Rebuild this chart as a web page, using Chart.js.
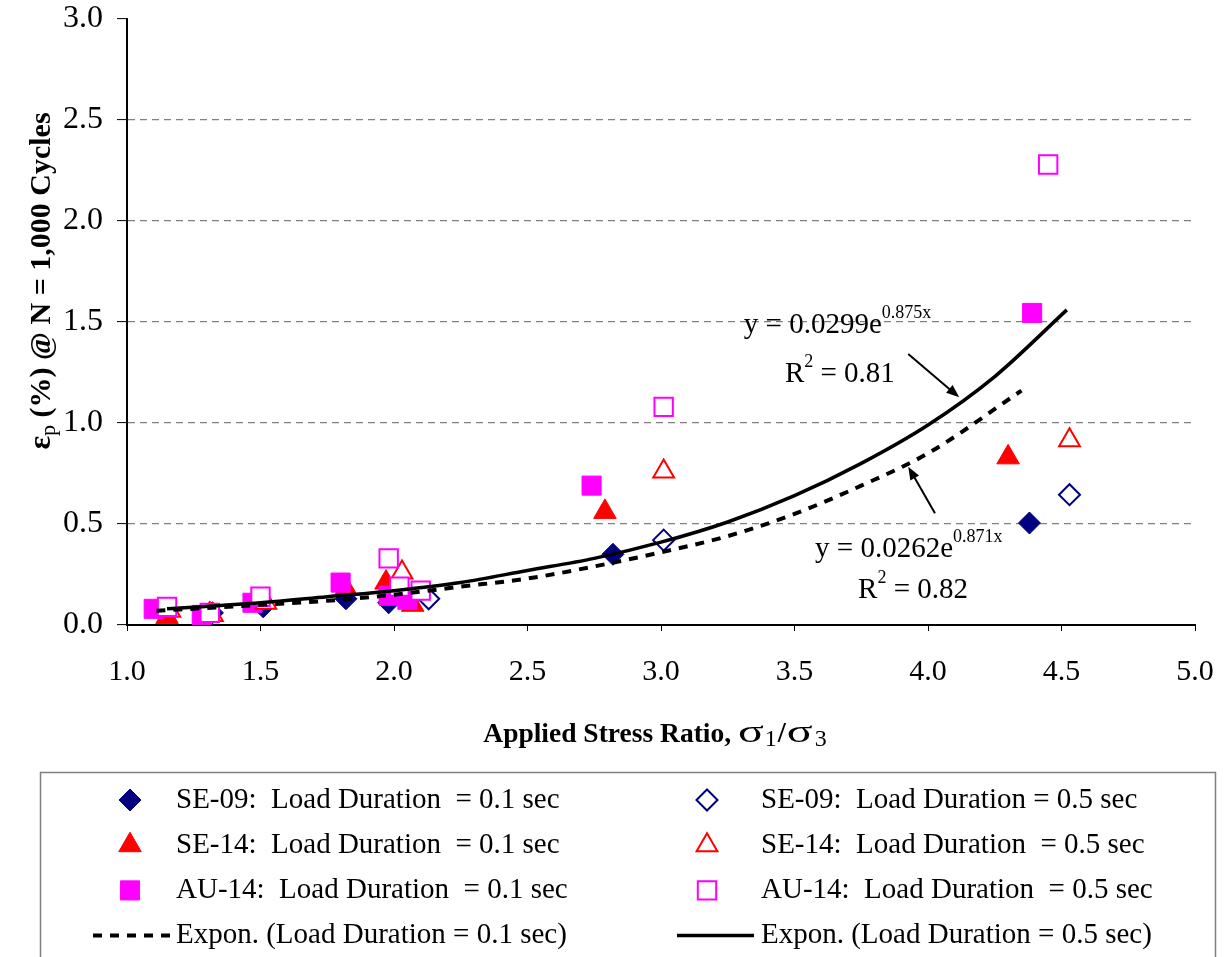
<!DOCTYPE html>
<html>
<head>
<meta charset="utf-8">
<title>Permanent strain vs applied stress ratio</title>
<script src="https://cdn.jsdelivr.net/npm/chart.js@4.4.0/dist/chart.umd.min.js"></script>
<style>
  body { margin: 0; background: #fff; }
</style>
</head>
<body>
<canvas id="myChart" width="1230" height="957"></canvas>
<script>
// tick values
const xTicks = [1.0, 1.5, 2.0, 2.5, 3.0, 3.5, 4.0, 4.5, 5.0];
const yTicks = [0.0, 0.5, 1.0, 1.5, 2.0, 2.5, 3.0];

// load duration = 0.1 sec
const se09FastX = [1.32, 1.51, 1.82, 1.98, 2.82, 4.38];
const se09FastY = [0.06, 0.09, 0.13, 0.11, 0.35, 0.505];
const se14FastX = [1.15, 1.31, 1.50, 1.82, 1.97, 2.07, 2.79, 4.30];
const se14FastY = [0.04, 0.055, 0.12, 0.18, 0.21, 0.10, 0.56, 0.83];
const au14FastX = [1.10, 1.28, 1.47, 1.80, 1.98, 2.05, 2.74, 4.39];
const au14FastY = [0.08, 0.05, 0.11, 0.21, 0.145, 0.125, 0.69, 1.545];

// load duration = 0.5 sec
const se09SlowX = [2.13, 3.01, 4.53];
const se09SlowY = [0.13, 0.42, 0.645];
const se14SlowX = [1.16, 1.32, 1.52, 2.03, 3.01, 4.53];
const se14SlowY = [0.07, 0.05, 0.11, 0.26, 0.76, 0.915];
const au14SlowX = [1.15, 1.31, 1.50, 1.98, 2.02, 2.10, 3.01, 4.45];
const au14SlowY = [0.09, 0.06, 0.14, 0.33, 0.19, 0.17, 1.08, 2.28];

// trend lines
const trendFastX = [1.11, 1.5, 1.75, 2.0, 2.25, 2.5, 2.75, 3.0, 3.25, 3.5, 3.75, 4.0, 4.35];
const trendFastY = [0.07, 0.10, 0.12, 0.15, 0.19, 0.23, 0.29, 0.36, 0.44, 0.55, 0.69, 0.85, 1.16];
const trendSlowX = [1.15, 1.5, 1.75, 2.0, 2.25, 2.5, 2.75, 3.0, 3.25, 3.5, 3.75, 4.0, 4.25, 4.52];
const trendSlowY = [0.08, 0.11, 0.14, 0.17, 0.21, 0.27, 0.33, 0.41, 0.51, 0.64, 0.80, 0.99, 1.23, 1.56];

const SERIF = '"Liberation Serif", "Times New Roman", serif';
Chart.defaults.font.family = SERIF;
Chart.defaults.color = '#000';

function pts(xs, ys) {
    return xs.map((x, i) => ({ x: x, y: ys[i] }));
}

function markerSet(label, xs, ys, style, color, radius, open, order) {
    return {
        label: label,
        data: pts(xs, ys),
        pointStyle: style,
        pointRadius: radius,
        pointHoverRadius: radius,
        pointBackgroundColor: open ? '#fff' : color,
        pointBorderColor: color,
        pointBorderWidth: open ? 2 : 1,
        order: order
    };
}

const dsSe09Fast = markerSet('SE-09:  Load Duration  = 0.1 sec', se09FastX, se09FastY, 'rectRot', '#000080', 11, false, 6);
const dsSe14Fast = markerSet('SE-14:  Load Duration  = 0.1 sec', se14FastX, se14FastY, 'triangle', '#FF0000', 13, false, 5);
const dsAu14Fast = markerSet('AU-14:  Load Duration  = 0.1 sec', au14FastX, au14FastY, 'rect', '#FF00FF', 13.5, false, 4);
const dsSe09Slow = markerSet('SE-09:  Load Duration = 0.5 sec', se09SlowX, se09SlowY, 'rectRot', '#000080', 10.5, true, 3);
const dsSe14Slow = markerSet('SE-14:  Load Duration  = 0.5 sec', se14SlowX, se14SlowY, 'triangle', '#FF0000', 12, true, 2);
const dsAu14Slow = markerSet('AU-14:  Load Duration  = 0.5 sec', au14SlowX, au14SlowY, 'rect', '#FF00FF', 13, true, 1);

const dsTrendFast = {
    label: 'Expon. (Load Duration = 0.1 sec)',
    data: pts(trendFastX, trendFastY),
    showLine: true,
    borderColor: '#000',
    borderWidth: 4,
    borderDash: [9, 8],
    pointRadius: 0,
    cubicInterpolationMode: 'monotone',
    order: 0
};
const dsTrendSlow = {
    label: 'Expon. (Load Duration = 0.5 sec)',
    data: pts(trendSlowX, trendSlowY),
    showLine: true,
    borderColor: '#000',
    borderWidth: 3.5,
    pointRadius: 0,
    cubicInterpolationMode: 'monotone',
    order: 0
};

// legend: left column 0.1 sec, right column 0.5 sec
const legendRows = [
    [dsSe09Fast, dsSe09Slow],
    [dsSe14Fast, dsSe14Slow],
    [dsAu14Fast, dsAu14Slow],
    [dsTrendFast, dsTrendSlow]
];

const fitNotes = [
    { at: [3.31, 1.445], runs: [{ t: 'y = 0.0299e' }, { t: '0.875x', size: 18, dy: -15 }] },
    { at: [3.464, 1.203], runs: [{ t: 'R' }, { t: '2', size: 18, dy: -15 }, { t: ' = 0.81' }] },
    { at: [3.577, 0.337], runs: [{ t: 'y = 0.0262e' }, { t: '0.871x', size: 18, dy: -15 }] },
    { at: [3.738, 0.134], runs: [{ t: 'R' }, { t: '2', size: 18, dy: -15 }, { t: ' = 0.82' }] }
];
const fitArrows = [
    { from: [3.926, 1.342], to: [4.117, 1.127] },
    { from: [4.026, 0.553], to: [3.926, 0.784] }
];

function fontOf(r) {
    return (r.bold ? 'bold ' : '') + (r.size || 29) + 'px ' + SERIF;
}
function runAdvance(ctx, r) {
    ctx.font = fontOf(r);
    return ctx.measureText(r.t).width * (r.sx || 1) + (r.adv || 0);
}
function runsWidth(ctx, runs) {
    return runs.reduce((w, r) => w + runAdvance(ctx, r), 0);
}
function drawRuns(ctx, runs, x, y) {
    runs.forEach(r => {
        ctx.font = fontOf(r);
        ctx.save();
        ctx.translate(x, y + (r.dy || 0));
        ctx.scale(r.sx || 1, 1);
        ctx.fillText(r.t, 0, 0);
        ctx.restore();
        x += runAdvance(ctx, r);
    });
}

function drawMarker(ctx, ds, x, y) {
    ctx.save();
    ctx.fillStyle = ds.pointBackgroundColor;
    ctx.strokeStyle = ds.pointBorderColor;
    ctx.lineWidth = ds.pointBorderWidth;
    Chart.helpers.drawPoint(ctx, {
        pointStyle: ds.pointStyle,
        radius: ds.pointRadius,
        borderWidth: ds.pointBorderWidth,
        rotation: 0
    }, x, y);
    ctx.restore();
}

const extras = {
    id: 'extras',
    afterDraw(chart) {
        const ctx = chart.ctx;
        const xs = chart.scales.x, ys = chart.scales.y;
        ctx.save();
        ctx.fillStyle = '#000';
        ctx.textBaseline = 'alphabetic';
        ctx.textAlign = 'left';

        // x axis title
        const xTitle = [
            { t: 'Applied Stress Ratio, ', bold: true, size: 27.5 },
            { t: 'σ', size: 32, sx: 1.5, adv: 1 },
            { t: '1', size: 24, dy: 4, adv: 1 },
            { t: '/', bold: true, size: 29, adv: 1 },
            { t: 'σ', size: 32, sx: 1.5, adv: 2 },
            { t: '3', size: 24, dy: 4 }
        ];
        drawRuns(ctx, xTitle, 655 - runsWidth(ctx, xTitle) / 2, 742);

        // y axis title
        const yTitle = [
            { t: 'ε', bold: true, size: 32 },
            { t: 'p', size: 22, dy: 5 },
            { t: ' (%) @ N = 1,000 Cycles', bold: true, size: 30 }
        ];
        ctx.save();
        ctx.translate(50, 281);
        ctx.rotate(-Math.PI / 2);
        drawRuns(ctx, yTitle, -runsWidth(ctx, yTitle) / 2, 0);
        ctx.restore();

        // fit equations
        fitNotes.forEach(n => {
            drawRuns(ctx, n.runs, xs.getPixelForValue(n.at[0]), ys.getPixelForValue(n.at[1]));
        });
        ctx.strokeStyle = '#000';
        ctx.lineWidth = 2;
        fitArrows.forEach(a => {
            const x1 = xs.getPixelForValue(a.from[0]), y1 = ys.getPixelForValue(a.from[1]);
            const x2 = xs.getPixelForValue(a.to[0]), y2 = ys.getPixelForValue(a.to[1]);
            const ang = Math.atan2(y2 - y1, x2 - x1);
            ctx.beginPath();
            ctx.moveTo(x1, y1);
            ctx.lineTo(x2 - 8 * Math.cos(ang), y2 - 8 * Math.sin(ang));
            ctx.stroke();
            ctx.beginPath();
            ctx.moveTo(x2, y2);
            ctx.lineTo(x2 - 13 * Math.cos(ang) + 5 * Math.sin(ang), y2 - 13 * Math.sin(ang) - 5 * Math.cos(ang));
            ctx.lineTo(x2 - 13 * Math.cos(ang) - 5 * Math.sin(ang), y2 - 13 * Math.sin(ang) + 5 * Math.cos(ang));
            ctx.closePath();
            ctx.fill();
        });

        // legend box
        ctx.strokeStyle = '#7f7f7f';
        ctx.lineWidth = 1.5;
        ctx.strokeRect(40.5, 772.5, 1175, 200);

        const markX = [130, 707], textX = [176, 761];
        const lineX = [[93, 170], [677, 754]];
        ctx.textBaseline = 'middle';
        legendRows.forEach((row, i) => {
            const y = 800 + i * 45.2;
            row.forEach((ds, c) => {
                if (ds.showLine) {
                    ctx.save();
                    ctx.strokeStyle = ds.borderColor;
                    ctx.lineWidth = ds.borderWidth;
                    ctx.setLineDash(ds.borderDash || []);
                    ctx.beginPath();
                    ctx.moveTo(lineX[c][0], y);
                    ctx.lineTo(lineX[c][1], y);
                    ctx.stroke();
                    ctx.restore();
                } else {
                    drawMarker(ctx, ds, markX[c], y);
                }
                ctx.fillStyle = '#000';
                ctx.font = '29px ' + SERIF;
                ctx.fillText(ds.label, textX[c], y);
            });
        });
        ctx.restore();
    }
};

const chartCtx = document.querySelector('#myChart');

new Chart(chartCtx, {
    type: 'scatter',
    data: {
        datasets: [dsTrendSlow, dsTrendFast, dsAu14Slow, dsSe14Slow, dsSe09Slow, dsAu14Fast, dsSe14Fast, dsSe09Fast]
    },
    options: {
        responsive: false,
        animation: false,
        events: [],
        layout: { padding: { left: 0, right: 35, top: 19, bottom: 272 } },
        plugins: {
            legend: { display: false },
            tooltip: { enabled: false }
        },
        scales: {
            x: {
                type: 'linear',
                min: 1,
                max: 5,
                afterBuildTicks: s => { s.ticks = xTicks.map(v => ({ value: v })); },
                afterFit: s => { s.height = 60; s.paddingLeft = 0; s.paddingRight = 0; },
                ticks: {
                    callback: v => v.toFixed(1),
                    font: { size: 30 },
                    color: '#000',
                    padding: 23,
                    maxRotation: 0,
                    autoSkip: false
                },
                grid: { drawOnChartArea: false, tickLength: 6, tickColor: '#000', tickWidth: 1 },
                border: { color: '#000', width: 2 }
            },
            y: {
                type: 'linear',
                min: 0,
                max: 3,
                afterBuildTicks: s => { s.ticks = yTicks.map(v => ({ value: v })); },
                afterFit: s => { s.width = 127; s.paddingTop = 0; s.paddingBottom = 0; },
                ticks: {
                    callback: v => v.toFixed(1),
                    font: { size: 32 },
                    color: '#000',
                    padding: 14
                },
                grid: {
                    color: c => (c.tick && c.tick.value > 0 && c.tick.value < 3) ? '#808080' : 'rgba(0,0,0,0)',
                    lineWidth: 1.2,
                    tickColor: '#000',
                    tickLength: 10,
                    tickWidth: 1,
                    tickBorderDash: []
                },
                border: { color: '#000', width: 2, dash: [7, 5] }
            }
        }
    },
    plugins: [extras]
});
</script>
</body>
</html>
